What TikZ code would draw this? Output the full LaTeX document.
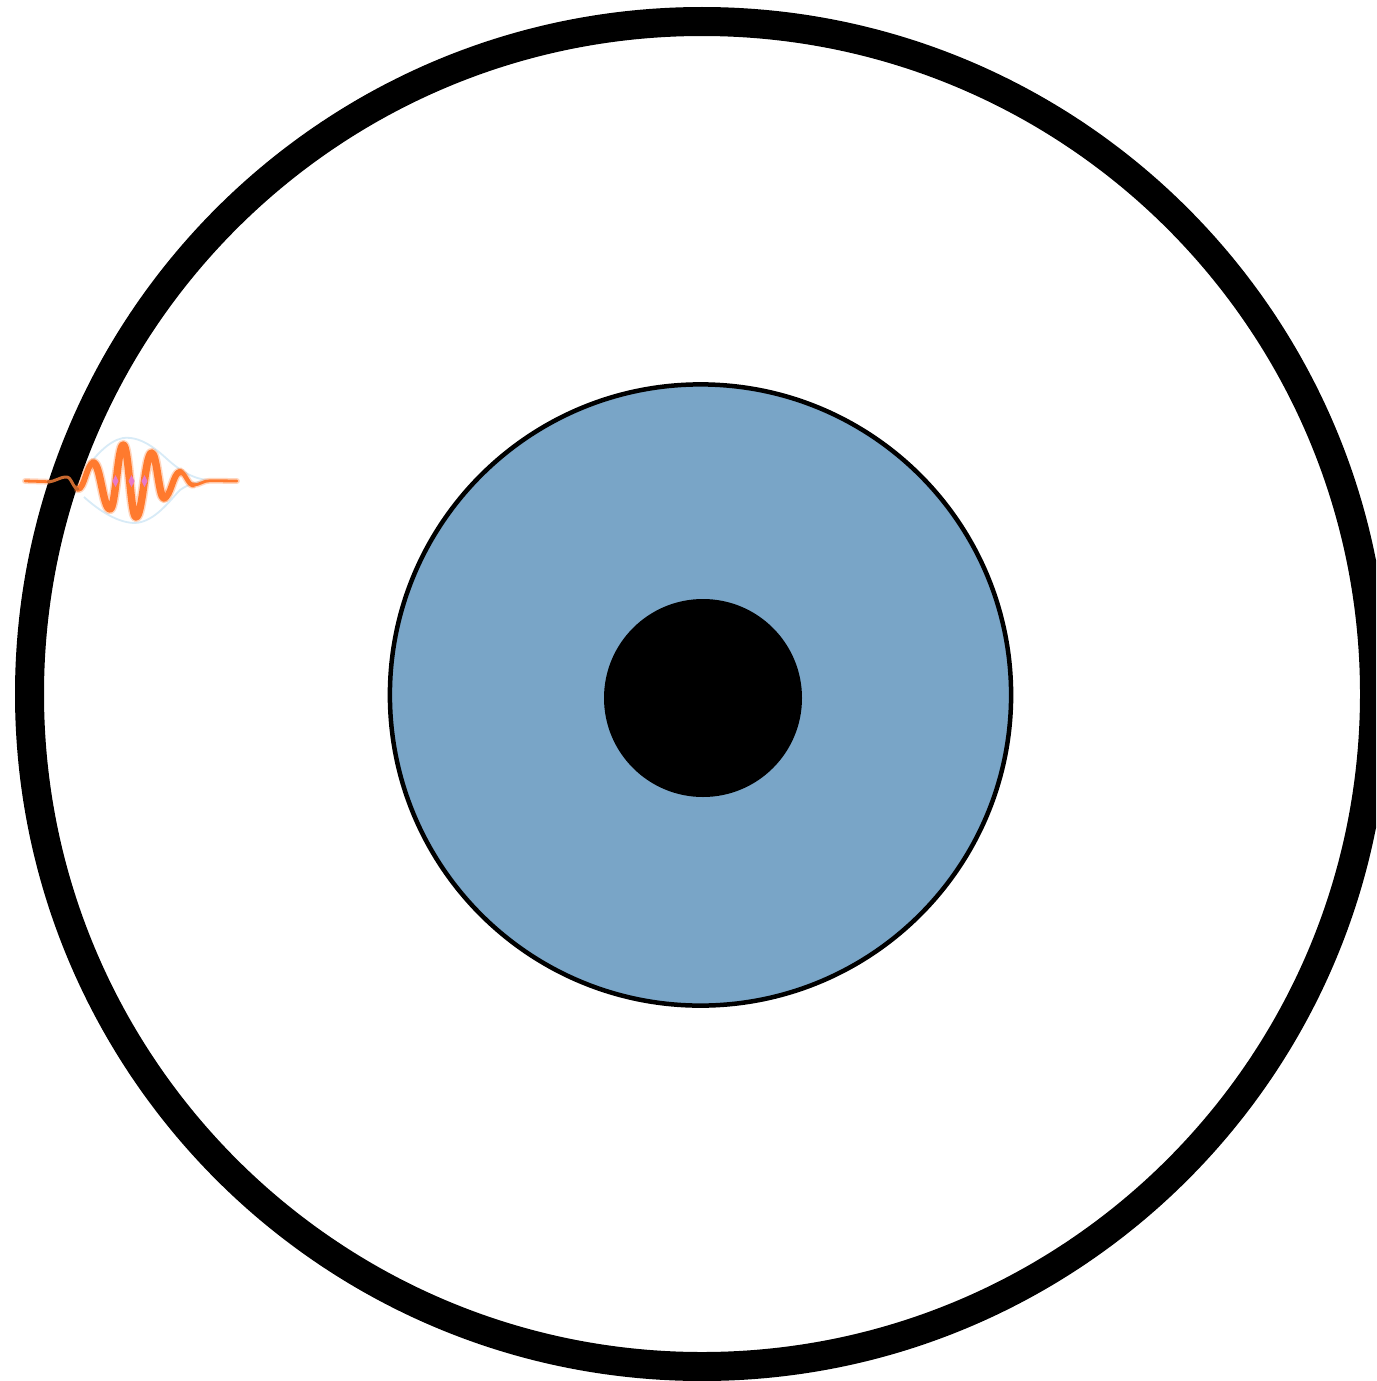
\documentclass[tikz,border=0pt]{standalone}
\definecolor{irisblue}{HTML}{79A5C7}
\definecolor{waveorange}{HTML}{FF7A2E}
\definecolor{wavedim}{HTML}{C8682E}
\definecolor{wavepink}{HTML}{E879C8}
\definecolor{envblue}{HTML}{D8EBF7}
\tikzset{
  wavehalo/.style={draw=waveorange,opacity=0.3,line cap=round,line join=round},
  wavecore/.style={draw=waveorange,line cap=round,line join=round},
  envelope/.style={draw=envblue,line width=1.8pt,line cap=butt},
  pinkmark/.style={fill=wavepink,draw=none}
}
% a half wave with level tangents at both ends
\newcommand{\hw}[4]{(#1,#2) .. controls ({#1+0.42*(#3-#1)},#2) and ({#3-0.42*(#3-#1)},#4) .. (#3,#4)}
\begin{document}
\begin{tikzpicture}[x=1pt,y=-1pt]
\useasboundingbox (0,0) rectangle (1376,1381);
\begin{scope}
\clip (0,0) rectangle (1376,1381);
\fill[white] (0,0) rectangle (1376,1381);
% outer ring
\draw[black,line width=29pt] (702,694) circle [radius=672.5];
% iris and pupil
\draw[black,line width=4.5pt,fill=irisblue] (700.5,695) circle [radius=310.6];
\fill[black] (703,698) circle [radius=99];
% envelope of the wave packet
\draw[envelope] (86,468) .. controls (96,456) and (108,441) .. (123,438) .. controls (140,436) and (155,448) .. (167,459) .. controls (177,468) and (190,478) .. (207,480);
\draw[envelope] (84,497) .. controls (94,506) and (115,523) .. (135,523) .. controls (155,522) and (170,500) .. (180,490) .. controls (187,485) and (195,482) .. (207,481);
% wave packet: halo, then core
\foreach \ww/\sty in {3/wavehalo,0/wavecore}{
  \draw[\sty,line width={2.8pt+\ww pt}] (25,481) -- (48,481.7);
  \draw[\sty,line width={2.8pt+\ww pt}] \hw{193}{485}{210}{480.7} -- (237,481);
  \draw[\sty,line width={4.4pt+\ww pt}] \hw{180}{472}{193}{485};
  \draw[\sty,line width={6.2pt+\ww pt}] \hw{164}{498}{180}{472};
  \draw[\sty,line width={7.4pt+\ww pt}]
     \hw{93.3}{463}{110}{509} \hw{110}{509}{123.3}{445} \hw{123.3}{445}{136}{517}
     \hw{136}{517}{151.7}{453} \hw{151.7}{453}{164}{498};
  \draw[\sty,line width={5.8pt+\ww pt}] \hw{78}{489}{93.3}{463};
}
% the stretch of wave that lies over the ring is darker
\draw[wavedim,line width=3pt,line cap=round] \hw{48}{481.7}{66.7}{477} \hw{66.7}{477}{78}{489};
% pink marks
\foreach \mx/\my in {115.5/481, 131.5/481, 144.5/481}
  \fill[pinkmark] (\mx,\my-6) -- (\mx+3,\my) -- (\mx,\my+6) -- (\mx-3,\my) -- cycle;
\end{scope}
\end{tikzpicture}
\end{document}
